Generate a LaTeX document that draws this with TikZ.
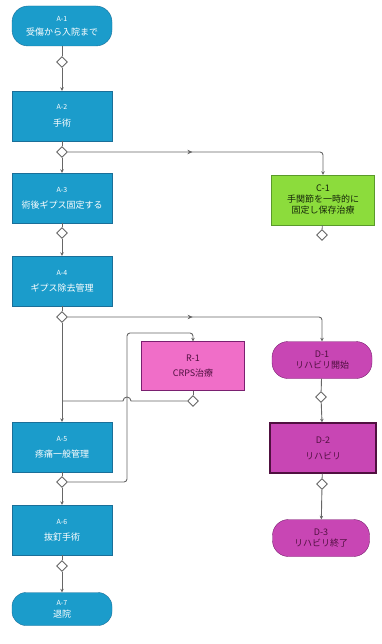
\documentclass[tikz,border=0pt]{standalone}
\usepackage{fontspec}
\setmainfont{Noto Sans CJK JP}
\usetikzlibrary{shapes.geometric,arrows.meta,decorations.markings}

\definecolor{stepblue}{HTML}{1B9CCB}
\definecolor{stepblueedge}{HTML}{1A6F99}
\definecolor{stepgreen}{HTML}{8CDC3C}
\definecolor{stepgreenedge}{HTML}{5A9A2A}
\definecolor{steppink}{HTML}{F06EC8}
\definecolor{stepplum}{HTML}{C846B4}
\definecolor{stepplumedge}{HTML}{7A2070}
\definecolor{plumtext}{HTML}{501040}
\definecolor{flowgray}{HTML}{666666}

\begin{document}
\begin{tikzpicture}
	[x=1pt,y=-1pt,
	 flow/.style={draw=flowgray,line width=0.9pt},
	 tip/.style={-{Stealth[length=3.5pt,width=3.5pt]}},
	 mid arrow/.style={postaction={decorate},decoration={markings,
	   mark=at position #1 with {\arrow{Stealth[length=5pt,width=4.5pt]}}}},
	 task/.style={draw=stepblueedge,fill=stepblue,text=white,align=center,
	   minimum width=100pt,minimum height=50pt,inner sep=1pt,
	   font=\fontsize{9}{11}\selectfont},
	 term/.style={task,rounded corners=16pt,minimum height=40pt},
	 sidebox/.style={task,draw=stepgreenedge,fill=stepgreen,text=black!75!stepgreenedge,
	   minimum width=103pt},
	 crpsbox/.style={task,draw=stepplumedge,fill=steppink,text=plumtext,minimum width=103pt,minimum height=49pt},
	 rehab/.style={task,draw=stepplumedge,fill=stepplum,text=plumtext},
	 rehabend/.style={rehab,rounded corners=16pt,minimum height=37pt},
	 gate/.style={diamond,draw=flowgray,fill=white,line width=0.9pt,
	   minimum width=11pt,minimum height=11pt,inner sep=0pt}]

\useasboundingbox (0,0) rectangle (382,644);

	% main path
	\node[term] (A1) at (62,26) {{\scriptsize A-1}\\[3pt]受傷から入院まで};
	\node[gate] (g1) at (62,62) {};
	\node[task] (A2) at (62,116) {{\scriptsize A-2}\\[6pt]手術};
	\node[gate] (g2) at (62,152) {};
	\node[task] (A3) at (62,198) {{\scriptsize A-3}\\[5pt]術後ギプス固定する};
	\node[gate] (g3) at (62,233) {};
	\node[task] (A4) at (62,281) {{\scriptsize A-4}\\[5pt]ギプス除去管理};
	\node[gate] (g4) at (62,317) {};
	\node[task] (A5) at (62,447) {{\scriptsize A-5}\\[5pt]疼痛一般管理};
	\node[gate] (g5) at (62,482) {};
	\node[task] (A6) at (62,530) {{\scriptsize A-6}\\[5pt]抜釘手術};
	\node[gate] (g6) at (62,566) {};
	\node[term,minimum height=33pt,rounded corners=14pt] (A7) at (62,609) {{\scriptsize A-7}\\[1pt]退院};

	% side paths
	\node[sidebox] (C1) at (323,200) {C-1\\手関節を一時的に\\固定し保存治療};
	\node[gate] (gC) at (322,235) {};
	\node[crpsbox] (R1) at (193,366) {R-1\\[4pt]CRPS治療};
	\node[gate] (gR) at (193,401) {};
	\node[rehabend] (D1) at (322,360) {D-1\\リハビリ開始};
	\node[gate] (gD1) at (321,397) {};
	\node[rehab,line width=1.4pt,draw=plumtext,minimum width=106pt] (D2) at (323,448) {D-2\\[5pt]リハビリ};
	\node[gate] (gD2) at (322,484) {};
	\node[rehabend,minimum width=97pt] (D3) at (321,538) {D-3\\リハビリ終了};

	\foreach \aa/\bb in {A1/g1,A2/g2,A3/g3,A4/g4,A5/g5,A6/g6,D1/gD1,D2/gD2,C1/gC,R1/gR}
	{
	 \draw[flow] (\aa) -- (\bb);
	}
	\foreach \aa/\bb in {g1/A2,g2/A3,g3/A4,g4/A5,g5/A6,g6/A7,gD1/D2,gD2/D3}
	{
	 \draw[flow,tip] (\aa) -- (\bb);
	}

	\draw[flow,tip,rounded corners=3pt,mid arrow=0.45] (g2.east) -- (C1.north |- g2.east) -- (C1.north);
	\draw[flow,tip,rounded corners=3pt,mid arrow=0.45] (g4.east) -- (D1.north |- g4.east) -- (D1.north);

	% loop to R-1 and back
	\coordinate (loopdown) at (127,482);
	\coordinate (loopup) at (127,333);
	\draw[flow,tip,rounded corners=3pt] (g5.east) -- (loopdown) -- (loopup) -- (R1.north |- loopup) -- (R1.north);
	\draw[flow] (gR.west) -- (131,401) arc[start angle=0,end angle=180,radius=4pt] -- (A5.north |- gR.west);

\end{tikzpicture}
\end{document}
